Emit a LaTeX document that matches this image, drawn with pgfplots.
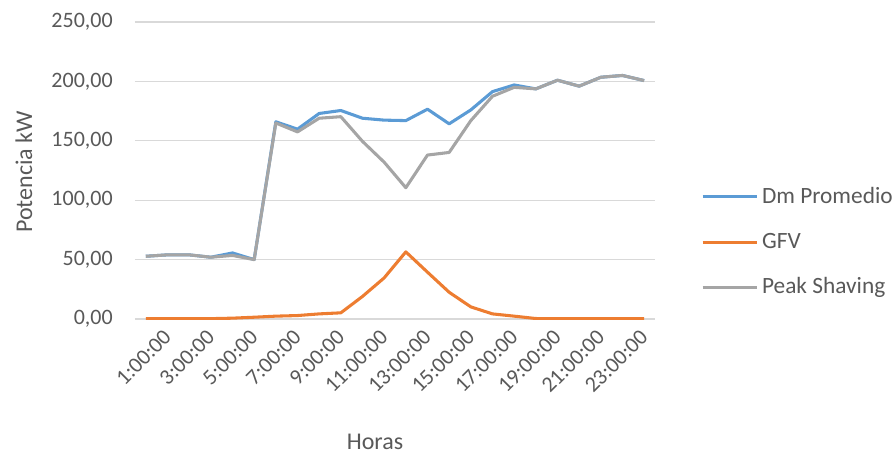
\documentclass[border=0pt]{standalone}
\usepackage{pgfplots}
\pgfplotsset{compat=1.18}
\usepackage{fontspec}
\setmainfont{Carlito}

\definecolor{serieazul}{HTML}{5B9BD5}
\definecolor{serienaranja}{HTML}{ED7D31}
\definecolor{seriegris}{HTML}{A5A5A5}
\definecolor{rejilla}{HTML}{D9D9D9}
\definecolor{texto}{HTML}{595959}

\newcommand\chartfont{\fontsize{16.5}{19.8}\selectfont}
\newcommand\legendfont{\fontsize{17.5}{21}\selectfont}
\newcommand\titlefont{\fontsize{18}{21.6}\selectfont}

% Demanda promedio, generación fotovoltaica y demanda con peak shaving (kW)
\pgfplotstableread{
h  dm     gfv   ps
1  52.8   0.2   52.8
2  54.0   0.2   54.0
3  54.0   0.2   54.0
4  52.0   0.3   52.0
5  55.6   0.7   53.5
6  50.0   1.5   50.0
7  166.0  2.4   165.0
8  159.8  2.9   157.5
9  173.0  4.3   169.0
10 175.5  5.2   170.3
11 169.0  19.0  149.5
12 167.4  34.6  132.0
13 167.0  56.5  110.5
14 176.6  39.4  138.0
15 164.3  22.5  140.2
16 176.0  10.2  167.0
17 191.4  4.3   187.5
18 197.0  2.4   195.0
19 193.7  0.4   193.7
20 201.0  0.2   201.0
21 196.0  0.2   196.0
22 203.5  0.2   203.5
23 205.0  0.2   205.0
24 200.7  0.2   200.7
}\datos

\begin{document}
\begin{tikzpicture}
\path[use as bounding box] (0pt,0pt) rectangle (670.5pt,340.5pt);
\begin{axis}[
  at={(101.25pt,101.25pt)}, anchor=south west,
  scale only axis, width=390pt, height=222.75pt,
  xmin=0.5, xmax=24.5, ymin=0, ymax=250,
  xtick={1,3,...,23},
  xticklabels={1:00:00,3:00:00,5:00:00,7:00:00,9:00:00,11:00:00,13:00:00,15:00:00,17:00:00,19:00:00,21:00:00,23:00:00},
  ytick={0,50,...,250},
  axis line style={draw=none},
  major tick length=0pt,
  ymajorgrids, grid style={rejilla, line width=0.9pt},
  /pgf/number format/.cd, fixed, fixed zerofill, precision=2, use comma, 1000 sep={}, assume math mode=true,
  /pgfplots/.cd,
  tick label style={font=\chartfont, text=texto},
  yticklabel style={inner sep=0pt, anchor=east, xshift=-16.5pt},
  xticklabel style={inner sep=0pt, rotate=45, anchor=east, xshift=4pt, yshift=-19pt},
  xlabel={Horas}, ylabel={Potencia kW},
  label style={font=\titlefont, text=texto},
  xlabel style={at={(axis description cs:0.4615,-0.414)}, anchor=center},
  ylabel style={at={(axis description cs:-0.2135,0.495)}, anchor=center},
  legend style={draw=none, fill=none, at={(axis description cs:1.088,0.259)}, anchor=west,
    inner sep=0pt, font=\legendfont, text=texto,
    nodes={inner sep=0pt, text height=12.5pt, text depth=3pt},
    row sep=18.5pt, column sep=3pt},
  legend cell align=left,
  legend image code/.code={\draw[#1] (0pt,0pt) -- (40.5pt,0pt);},
  every axis plot/.append style={line width=2.3pt, line join=round, mark=none},
]
\addplot[serieazul] table[x=h, y=dm] {\datos};
\addlegendentry{Dm Promedio}
\addplot[serienaranja] table[x=h, y=gfv] {\datos};
\addlegendentry{GFV}
\addplot[seriegris] table[x=h, y=ps] {\datos};
\addlegendentry{Peak Shaving}
\end{axis}
\end{tikzpicture}
\end{document}
